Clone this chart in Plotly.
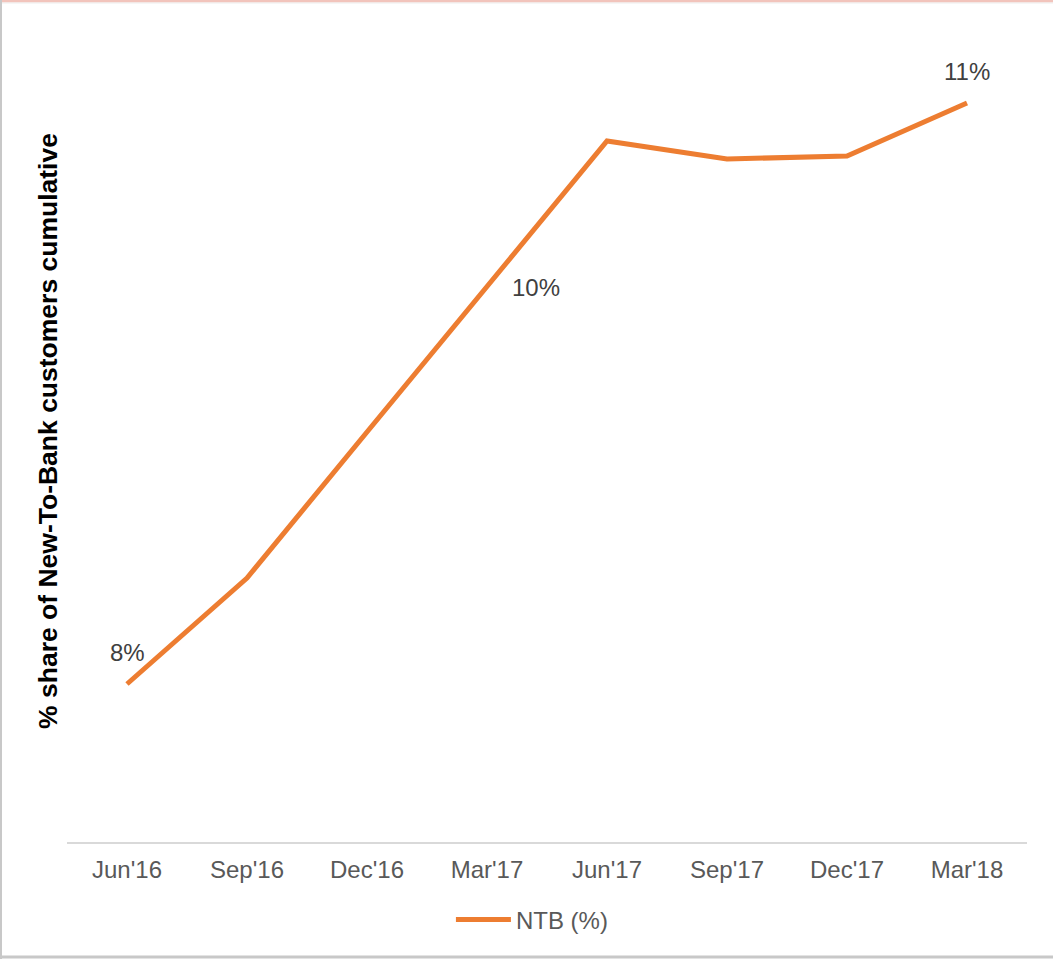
import plotly.graph_objects as go

categories = ["Jun'16", "Sep'16", "Dec'16", "Mar'17", "Jun'17", "Sep'17", "Dec'17", "Mar'18"]
ntb_values = [8.00, 8.53, 9.26, 9.985, 10.715, 10.625, 10.64, 10.905]
label_texts = ["8%", "", "", "10%", "", "", "", "11%"]

W, H = 1053, 959
ML, MR, MT, MB = 67, 26, 20, 117
PW, PH = W - ML - MR, H - MT - MB
FONT = "Liberation Sans, Arial, sans-serif"

fig = go.Figure()
fig.add_trace(go.Scatter(
    x=categories, y=ntb_values, mode="lines", name="NTB (%)",
    line=dict(color="#ED7D31", width=5),
))

annotations = []
for cat, val, txt in zip(categories, ntb_values, label_texts):
    if not txt:
        continue
    if txt == "10%":
        annotations.append(dict(x=cat, y=val, xref="x", yref="y", text=txt, showarrow=False,
                                xanchor="left", yanchor="middle", xshift=23, yshift=0,
                                font=dict(family=FONT, size=24, color="#404040")))
    else:
        annotations.append(dict(x=cat, y=val, xref="x", yref="y", text=txt, showarrow=False,
                                xanchor="center", yanchor="middle", yshift=32,
                                font=dict(family=FONT, size=24, color="#404040")))

def px_x(p):
    return (p - ML) / PW

def px_y(p):
    return (H - MB - p) / PH

shapes = [
    dict(type="line", xref="paper", yref="paper", x0=px_x(0), x1=px_x(W), y0=px_y(1), y1=px_y(1),
         line=dict(color="#F2C4BC", width=3)),
    dict(type="line", xref="paper", yref="paper", x0=px_x(0), x1=px_x(W), y0=px_y(3), y1=px_y(3),
         line=dict(color="#EEEEEE", width=1)),
    dict(type="line", xref="paper", yref="paper", x0=px_x(1), x1=px_x(1), y0=px_y(0), y1=px_y(H),
         line=dict(color="#C8C8C8", width=2)),
    dict(type="line", xref="paper", yref="paper", x0=px_x(0), x1=px_x(W), y0=px_y(957), y1=px_y(957),
         line=dict(color="#C8C8C8", width=3)),
]

fig.update_layout(
    width=W, height=H,
    margin=dict(l=ML, r=MR, t=MT, b=MB),
    paper_bgcolor="white", plot_bgcolor="white",
    font=dict(family=FONT, size=24, color="#595959"),
    showlegend=True,
    legend=dict(orientation="h", x=0.4843, xanchor="center", y=px_y(920), yanchor="middle",
                font=dict(family=FONT, size=24, color="#595959"), itemwidth=55),
    xaxis=dict(type="category", showgrid=False, showline=True, linecolor="#D9D9D9", linewidth=2,
               ticks="", ticklabelstandoff=5, range=[-0.5, 7.5],
               tickfont=dict(family=FONT, size=24, color="#595959")),
    yaxis=dict(range=[7.21, 11.32], showgrid=False, showticklabels=False, zeroline=False,
               showline=False, ticks="",
               title=dict(text="% share of New-To-Bank customers cumulative", standoff=0,
                          font=dict(family=FONT, size=26.5, color="#000000", weight="bold"))),
    shapes=shapes,
    annotations=annotations,
)

fig.write_html("out.html", config={"displayModeBar": False},
               post_script="document.body.style.margin='0px';")
